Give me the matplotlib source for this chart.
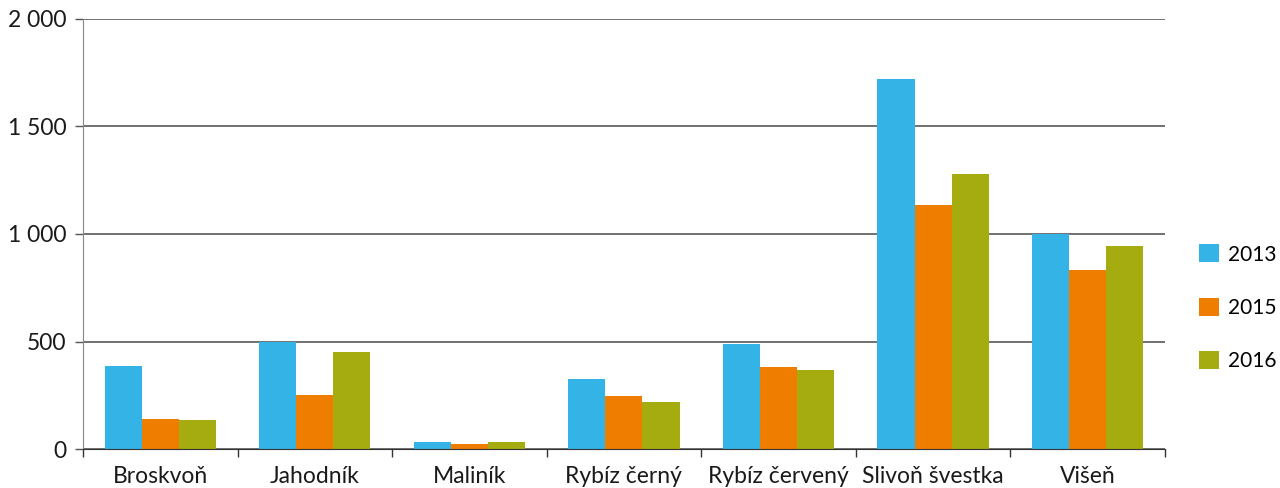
import matplotlib.pyplot as plt
import numpy as np
from matplotlib.ticker import FuncFormatter

plt.rcParams['font.family'] = ['Lato', 'DejaVu Sans']

# Data
kategorie = ['Broskvoň', 'Jahodník', 'Maliník', 'Rybíz černý',
             'Rybíz červený', 'Slivoň švestka', 'Višeň']
roky = ['2013', '2015', '2016']
hodnoty_2013 = [386, 500, 32, 326, 490, 1720, 1002]
hodnoty_2015 = [140, 252, 22, 247, 382, 1133, 834]
hodnoty_2016 = [135, 452, 32, 219, 368, 1277, 946]
barvy = ['#33b3e6', '#ef7d00', '#a5ac0f']

fig = plt.figure(figsize=(12.8, 4.88), dpi=100)
ax = fig.add_axes([0.0648, 0.0799, 0.8453, 0.8812])

x = np.arange(len(kategorie))
sirka = 0.24
for i, (hodnoty, rok, barva) in enumerate(zip([hodnoty_2013, hodnoty_2015, hodnoty_2016], roky, barvy)):
    ax.bar(x + (i - 1) * sirka, hodnoty, width=sirka, color=barva, label=rok, zorder=3)

ax.set_xlim(-0.5, len(kategorie) - 0.5)
ax.set_ylim(0, 2000)
ax.set_yticks([0, 500, 1000, 1500, 2000])
ax.yaxis.set_major_formatter(FuncFormatter(lambda v, p: f'{int(v):,}'.replace(',', ' ')))
ax.grid(axis='y', color='#4a4a4a', linewidth=1.1, zorder=0)

# hranice skupin jako hlavní ticky, popisky uprostřed
ax.set_xticks(np.arange(-0.5, len(kategorie)), minor=False)
ax.set_xticklabels([])
ax.set_xticks(x, minor=True)
ax.set_xticklabels(kategorie, minor=True)
ax.tick_params(axis='x', which='major', length=6, color='#333333', width=1)
ax.tick_params(axis='x', which='minor', length=0, pad=12, labelsize=16.5, labelcolor='#1a1a1a')
ax.tick_params(axis='y', length=6, color='#555555', width=1, pad=6, labelsize=16.5, labelcolor='#1a1a1a')

for s in ['top', 'right']:
    ax.spines[s].set_visible(False)
ax.spines['left'].set_color('#888888')
ax.spines['bottom'].set_color('#333333')
ax.spines['bottom'].set_zorder(4)

ax.legend(loc='center left', bbox_to_anchor=(0.9367, 0.369), bbox_transform=fig.transFigure,
          frameon=False, fontsize=15, handlelength=0.95, handleheight=0.95,
          labelspacing=1.6, handletextpad=0.45, borderpad=0, borderaxespad=0)

fig.savefig('out.png', dpi=100)
